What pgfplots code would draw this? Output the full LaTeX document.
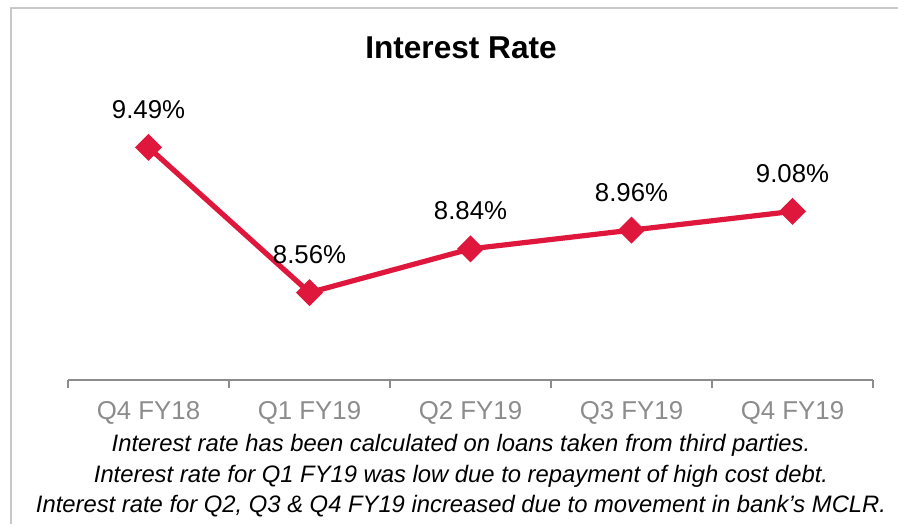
\documentclass[border=0pt]{standalone}
\usepackage{pgfplots}
\pgfplotsset{compat=1.18}
\usepackage{fontspec}
\setmainfont{Liberation Sans}
\definecolor{rate}{HTML}{E0173C}
\definecolor{axgr}{HTML}{8C8C8C}
\definecolor{frame}{HTML}{C8C8C8}

% reference pixels -> pt (1px = 0.5pt, y downward)
\newcommand{\px}[2]{({#1*0.5pt},{-#2*0.5pt})}

\begin{document}
\begin{tikzpicture}
\useasboundingbox \px{0}{0} rectangle \px{898}{524};
\draw[frame,line width=1pt] \px{11}{524} -- \px{11}{8} -- \px{898}{8};
\node[font=\bfseries\fontsize{15.8}{18}\selectfont] at \px{461}{48} {Interest Rate};
\begin{axis}[
  at={(34pt,-190pt)},anchor=south west,
  scale only axis,width=402.5pt,height=140.5pt,
  xmin=-0.5,xmax=4.5,ymin=8,ymax=9.8,
  axis x line=bottom,axis y line=none,
  x axis line style={-,draw=axgr,line width=0.8pt},
  xtick={0,...,4},
  xticklabels={Q4 FY18,Q1 FY19,Q2 FY19,Q3 FY19,Q4 FY19},
  major tick length=0pt,
  extra x ticks={-0.5,0.5,1.5,2.5,3.5,4.5},
  extra x tick labels={},
  extra x tick style={major tick length=4pt,tick align=outside,
    tick style={draw=axgr,line width=0.8pt}},
  x tick label style={font=\fontsize{12.9}{14}\selectfont,text=axgr,yshift=-7pt},
  clip=false,
  nodes near coords,
  point meta=explicit symbolic,
  every node near coord/.style={font=\fontsize{12.9}{15}\selectfont,text=black,
    anchor=center,yshift=19pt},
]
\addplot[rate,line width=2.6pt,mark=square*,mark size=3.5pt,
  mark options={rotate=45}]
  coordinates {(0,9.49)[9.49\%] (1,8.56)[8.56\%] (2,8.84)[8.84\%]
    (3,8.96)[8.96\%] (4,9.08)[9.08\%]};
\end{axis}
\node[font=\itshape\fontsize{11.9}{15.25}\selectfont,align=center] at \px{461}{476}
  {Interest rate has been calculated on loans taken from third parties.\\
   Interest rate for Q1 FY19 was low due to repayment of high cost debt.\\
   Interest rate for Q2, Q3 \& Q4 FY19 increased due to movement in bank’s MCLR.};
\end{tikzpicture}
\end{document}
